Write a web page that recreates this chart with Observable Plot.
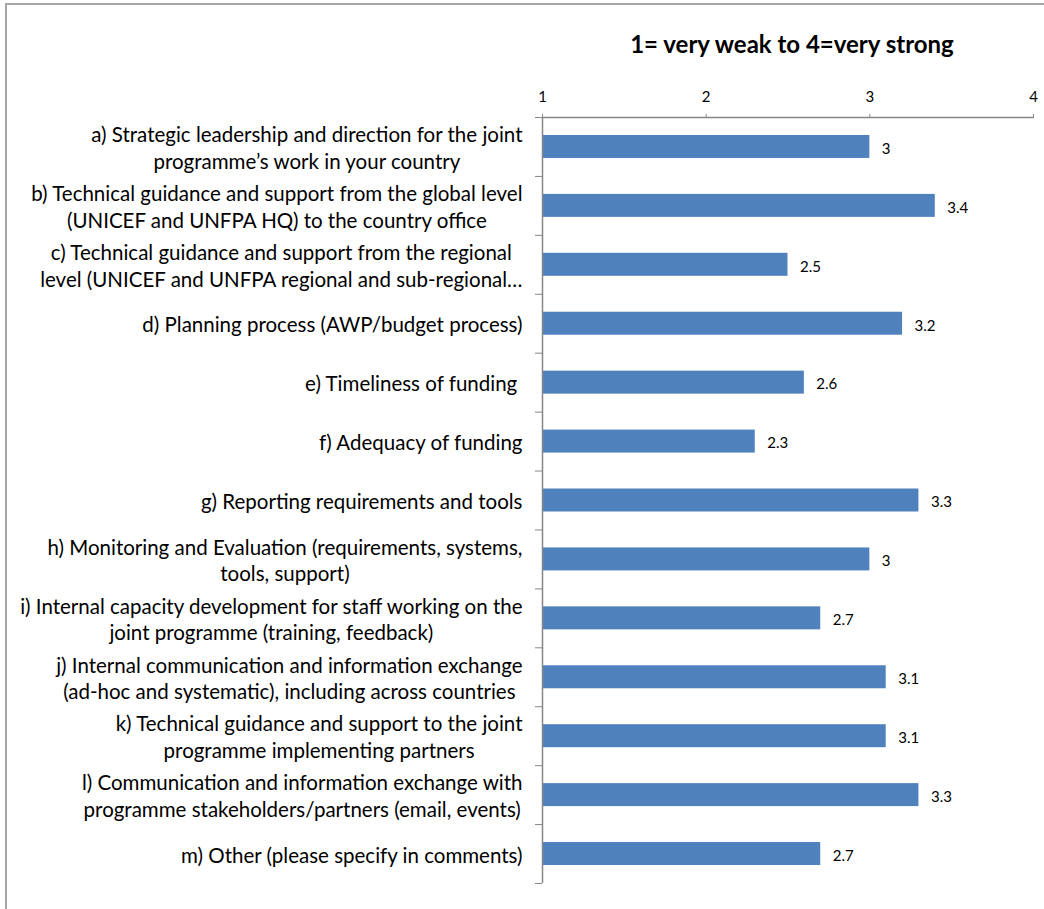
<!DOCTYPE html>
<html><head><meta charset="utf-8">
<script src="https://cdn.jsdelivr.net/npm/d3@7"></script>
<script src="https://cdn.jsdelivr.net/npm/@observablehq/plot@0.6"></script>
<style>
body{margin:0;background:#fff;}
#wrap{position:relative;width:1044px;height:909px;overflow:hidden;background:#fff;}
#wrap svg{position:absolute;left:0;top:0;}
#border{position:absolute;left:5px;top:3px;width:1100px;height:1000px;border-left:2px solid #a6a6a6;border-top:2px solid #a6a6a6;z-index:2;}
#title{position:absolute;left:542px;width:500px;top:32px;text-align:center;font-family:Lato,sans-serif;font-weight:bold;font-size:24px;line-height:24px;color:#000;z-index:3;}
</style>
</head><body>
<div id="wrap"><div id="border"></div><div id="title">1= very weak to 4=very strong</div></div>
<script>
const title = "1= very weak to 4=very strong";
const categories = [
  "a) Strategic leadership and direction for the joint\nprogramme’s work in your country",
  "b) Technical guidance and support from the global level\n(UNICEF and UNFPA HQ) to the country office",
  "c) Technical guidance and support from the regional\nlevel (UNICEF and UNFPA regional and sub-regional…",
  "d) Planning process (AWP/budget process)",
  "e) Timeliness of funding ",
  "f) Adequacy of funding",
  "g) Reporting requirements and tools",
  "h) Monitoring and Evaluation (requirements, systems,\ntools, support)",
  "i) Internal capacity development for staff working on the\njoint programme (training, feedback)",
  "j) Internal communication and information exchange\n(ad-hoc and systematic), including across countries",
  "k) Technical guidance and support to the joint\nprogramme implementing partners",
  "l) Communication and information exchange with\nprogramme stakeholders/partners (email, events)",
  "m) Other (please specify in comments)"
];
const values = [3, 3.4, 2.5, 3.2, 2.6, 2.3, 3.3, 3, 2.7, 3.1, 3.1, 3.3, 2.7];
const xTicks = [1, 2, 3, 4];
const xDomain = [1, 4];

const rows = categories.map((c, i) => ({label: c, value: values[i], i}));

const plot = Plot.plot({
  width: 1044, height: 909,
  marginTop: 117, marginLeft: 542, marginRight: 11, marginBottom: 26,
  style: {fontFamily: "Lato, sans-serif", fontSize: "15px", color: "#000", background: "transparent", overflow: "visible"},
  x: {domain: xDomain},
  y: {domain: [0, categories.length], reverse: true},
  marks: [
    Plot.rect(rows, {x1: xDomain[0], x2: "value", y1: d => d.i + 0.305, y2: d => d.i + 0.695, fill: "#4F81BD"}),
    Plot.ruleX([xDomain[0]], {stroke: "#868686", strokeWidth: 1.5}),
    Plot.ruleY([0], {stroke: "#868686", strokeWidth: 1.5}),
    Plot.axisX({anchor: "top", ticks: xTicks, tickFormat: d => String(d), tickSize: 4, tickPadding: 12, stroke: "#868686", fill: "#000", label: null, fontSize: 15}),
    Plot.axisY({anchor: "left", ticks: d3.range(categories.length + 1), tickSize: 7, tickFormat: () => "", stroke: "#868686", label: null}),
    Plot.text(rows, {x: "value", y: d => d.i + 0.5, text: d => String(d.value), textAnchor: "start", dx: 12, dy: 2, fontSize: 15, fill: "#000"}),
    Plot.text(rows, {x: xDomain[0], y: d => d.i + 0.5, text: "label", textAnchor: "end", dx: -20, dy: 0, fontSize: 20.5, lineHeight: 26.5 / 20.5, fill: "#000", className: "cat"})
  ]
});
document.getElementById("wrap").append(plot);
function centerLines() {
  plot.querySelectorAll("g.cat text").forEach(t => {
    const spans = [...t.querySelectorAll("tspan")];
    if (spans.length < 2) return;
    const ws = spans.map(s => s.getComputedTextLength());
    const W = Math.max(...ws);
    spans.forEach((s, k) => s.setAttribute("dx", -(W - ws[k]) / 2));
  });
}
centerLines();
if (document.fonts && document.fonts.ready) document.fonts.ready.then(centerLines);
</script>
</body></html>
